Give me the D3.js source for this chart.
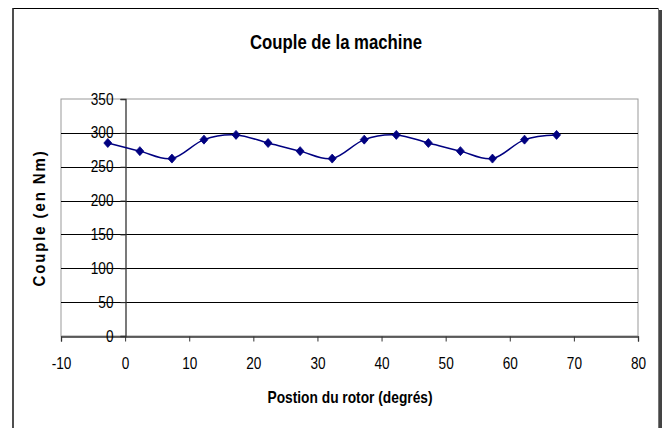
<!DOCTYPE html>
<html><head><meta charset="utf-8">
<script src="https://cdn.jsdelivr.net/npm/d3@7"></script>
<style>
html,body{margin:0;padding:0;background:#fff;}
svg{display:block;}
text{font-family:"Liberation Sans",Arial,sans-serif;fill:#000;}
</style></head>
<body>
<script>
const title = "Couple de la machine";
const xTitle = "Postion du rotor (degrés)";
const yTitle = "Couple (en Nm)";
const positions = [-2.7, 2.3, 7.3, 12.3, 17.3, 22.3, 27.3, 32.3, 37.3, 42.3, 47.3, 52.3, 57.3, 62.3, 67.3];
const couple = [285, 273, 262, 290, 297, 285, 273, 262, 290, 297, 285, 273, 262, 290, 297];
const xTicks = [-10, 0, 10, 20, 30, 40, 50, 60, 70, 80];
const yTicks = [0, 50, 100, 150, 200, 250, 300, 350];

const W = 664, H = 428;
const svg = d3.select("body").append("svg").attr("width", W).attr("height", H);

// outer chart frame
svg.append("rect").attr("x", 659).attr("y", 10).attr("width", 3).attr("height", H).attr("fill", "#444");
svg.append("line").attr("x1", 13).attr("x2", 659).attr("y1", 8.5).attr("y2", 8.5).attr("stroke", "#000").attr("stroke-width", 1);
svg.append("line").attr("x1", 13).attr("x2", 13).attr("y1", 8).attr("y2", H).attr("stroke", "#222").attr("stroke-width", 1.6);
svg.append("line").attr("x1", 658.5).attr("x2", 658.5).attr("y1", 8).attr("y2", H).attr("stroke", "#777").attr("stroke-width", 1);

const x = d3.scaleLinear().domain([-10, 80]).range([61, 638]);
const y = d3.scaleLinear().domain([0, 350]).range([336, 99]);

// plot area border
svg.append("rect").attr("x", x(-10)).attr("y", y(350)).attr("width", x(80) - x(-10)).attr("height", y(0) - y(350))
  .attr("fill", "#fff").attr("stroke", "#999").attr("stroke-width", 1);

// gridlines
svg.append("g").selectAll("line").data(yTicks.filter(d => d > 0 && d < 350)).join("line")
  .attr("x1", x(-10)).attr("x2", x(80)).attr("y1", d => Math.round(y(d)) + 0.5).attr("y2", d => Math.round(y(d)) + 0.5)
  .attr("stroke", "#000").attr("stroke-width", 1);

const narrow = (sel, k) => sel.each(function () {
  const w = this.getComputedTextLength();
  d3.select(this).attr("textLength", w * k).attr("lengthAdjust", "spacingAndGlyphs");
});

// x axis at y=0
const xAxis = d3.axisBottom(x).tickValues(xTicks).tickSize(5).tickPadding(16).tickFormat(d => String(d));
const gx = svg.append("g").attr("transform", `translate(0,${Math.round(y(0)) + 0.5})`).call(xAxis);
gx.attr("font-family", null).attr("font-size", null);
gx.select(".domain").attr("stroke", "#333").attr("stroke-width", 1.3);
gx.selectAll(".tick line").attr("stroke", "#333");
gx.selectAll(".tick text").style("font-size", "16px").attr("fill", "#000").call(narrow, 0.85);

// y axis at x=0
const yAxis = d3.axisLeft(y).tickValues(yTicks).tickSize(5).tickPadding(7).tickFormat(d => String(d));
const gy = svg.append("g").attr("transform", `translate(${Math.round(x(0)) + 0.5},0)`).call(yAxis);
gy.attr("font-family", null).attr("font-size", null);
gy.select(".domain").attr("stroke", "#333").attr("stroke-width", 1.3);
gy.selectAll(".tick line").attr("stroke", "#333");
gy.selectAll(".tick text").style("font-size", "16px").attr("fill", "#000").call(narrow, 0.85);

// series line
const pts = positions.map((p, i) => [p, couple[i]]);
const line = d3.line().x(d => x(d[0])).y(d => y(d[1])).curve(d3.curveCardinal.tension(0));
svg.append("path").datum(pts).attr("d", line).attr("fill", "none").attr("stroke", "#000080").attr("stroke-width", 1.5);

// diamond markers
svg.append("g").selectAll("path").data(pts).join("path")
  .attr("transform", d => `translate(${x(d[0])},${y(d[1])})`)
  .attr("d", "M0,-4.5L4,0L0,4.5L-4,0Z")
  .attr("fill", "#000080").attr("stroke", "#000080").attr("stroke-width", 0.8);

// titles
svg.append("text").attr("x", 336).attr("y", 49).attr("text-anchor", "middle")
  .style("font-size", "20px").style("font-weight", "bold").text(title)
  .attr("textLength", 172).attr("lengthAdjust", "spacingAndGlyphs");
svg.append("text").attr("x", 350).attr("y", 403).attr("text-anchor", "middle")
  .style("font-size", "17px").style("font-weight", "bold").text(xTitle)
  .attr("textLength", 165).attr("lengthAdjust", "spacingAndGlyphs");
svg.append("text").attr("transform", "translate(45,218) rotate(-90)").attr("text-anchor", "middle")
  .style("font-size", "16px").style("font-weight", "bold").style("letter-spacing", "2px").text(yTitle)
  .attr("textLength", 137).attr("lengthAdjust", "spacingAndGlyphs");
</script>
</body></html>
